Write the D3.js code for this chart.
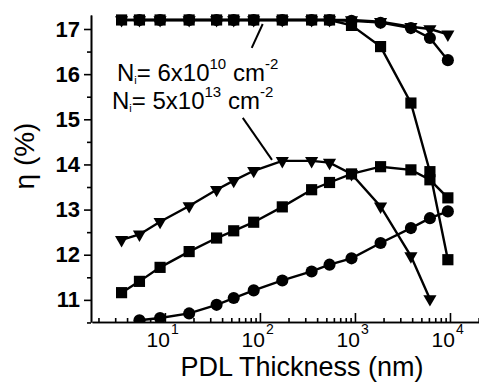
<!DOCTYPE html>
<html>
<head>
<meta charset="utf-8">
<script src="https://cdn.jsdelivr.net/npm/d3@7"></script>
<style>
  body { margin: 0; background: #fff; }
  text { font-family: "Liberation Sans", Arial, sans-serif; fill: #000; }
</style>
</head>
<body>
<svg id="chart" width="479" height="387"></svg>
<script>
// PDL thickness (nm) shared by all series
var thickness = [3.5, 5.4, 8.9, 18, 35, 53, 86, 172, 350, 540, 920, 1860, 3880, 6150, 9500];

// Ni = 6x10^10 cm^-2
var lowTri  = [17.2, 17.2, 17.2, 17.2, 17.2, 17.2, 17.2, 17.2, 17.2, 17.2, 17.2, 17.16, 17.05, 17.0, 16.88];
var lowSq   = [17.2, 17.2, 17.2, 17.2, 17.2, 17.2, 17.2, 17.2, 17.2, 17.2, 17.08, 16.61, 15.36, 13.84, 11.89];
var lowCirc = [null, 17.2, 17.2, 17.2, 17.2, 17.2, 17.2, 17.2, 17.2, 17.2, 17.18, 17.14, 17.02, 16.8, 16.31];

// Ni = 5x10^13 cm^-2
var hiTri  = [12.33, 12.45, 12.73, 13.08, 13.44, 13.64, 13.86, 14.08, 14.08, 14.04, 13.79, 13.07, 11.97, 11.02, null];
var hiSq   = [11.16, 11.41, 11.72, 12.07, 12.37, 12.53, 12.72, 13.06, 13.44, 13.6, 13.79, 13.95, 13.88, 13.66, 13.26];
var hiCirc = [null, 10.55, 10.6, 10.7, 10.89, 11.04, 11.21, 11.43, 11.63, 11.78, 11.92, 12.26, 12.59, 12.81, 12.96];

var yTicks = [11, 12, 13, 14, 15, 16, 17];
var xTicks = [10, 100, 1000, 10000];
var xTickExp = ["1", "2", "3", "4"];

var svg = d3.select("#chart");

var x = d3.scaleLog().domain([1.71, 20200]).range([92, 479]);
var y = d3.scaleLinear().domain([10.51, 17.31]).range([322, 15]);

svg.append("defs").append("clipPath").attr("id", "plot")
    .append("rect").attr("x", 92).attr("y", 0).attr("width", 387).attr("height", 322);

// y axis
var yMinor = d3.range(10.5, 17.01, 0.5).filter(function(d) { return d % 1 !== 0; });
svg.append("g")
    .attr("transform", "translate(91,0)")
    .call(d3.axisLeft(y).tickValues(yMinor).tickSize(4).tickSizeOuter(0).tickFormat(""))
    .call(function(g) { g.selectAll("line, path").attr("stroke-width", 1.6); });

var yAxis = svg.append("g")
    .attr("transform", "translate(91,0)")
    .call(d3.axisLeft(y).tickValues(yTicks).tickSize(7).tickSizeOuter(0).tickPadding(4).tickFormat(d3.format("d")));
yAxis.selectAll("line, path").attr("stroke-width", 1.6);
yAxis.selectAll("text")
    .attr("font-size", 22)
    .attr("font-weight", "bold")
    .attr("font-family", "'Liberation Sans', Arial, sans-serif");

// x axis
var xMinor = [];
[1, 10, 100, 1000, 10000].forEach(function(p) {
    for (var k = 2; k <= 9; k++) {
        if (p * k > 1.71 && p * k < 20200) xMinor.push(p * k);
    }
});
svg.append("g")
    .attr("transform", "translate(0,322)")
    .call(d3.axisBottom(x).tickValues(xMinor).tickSize(-4).tickSizeOuter(0).tickFormat(""))
    .call(function(g) { g.selectAll("line, path").attr("stroke-width", 1.6); });

var xAxis = svg.append("g")
    .attr("transform", "translate(0,322)")
    .call(d3.axisBottom(x).tickValues(xTicks).tickSize(-9).tickSizeOuter(0).tickFormat(""));
xAxis.selectAll("line, path").attr("stroke-width", 1.6);

var xl = svg.append("g");
xl.selectAll("text.base").data(xTicks).enter().append("text")
    .attr("class", "base")
    .attr("x", function(d) { return x(d) + 5; })
    .attr("y", 347)
    .attr("text-anchor", "end")
    .attr("font-size", 21)
    .text("10");
xl.selectAll("text.exp").data(xTicks).enter().append("text")
    .attr("class", "exp")
    .attr("x", function(d) { return x(d) + 6; })
    .attr("y", 334)
    .attr("font-size", 14)
    .text(function(d, i) { return xTickExp[i]; });

// axis titles
svg.append("text")
    .attr("x", 302).attr("y", 376)
    .attr("text-anchor", "middle")
    .attr("font-size", 27)
    .text("PDL Thickness (nm)");

svg.append("text")
    .attr("transform", "translate(34,156) rotate(-90)")
    .attr("text-anchor", "middle")
    .attr("font-size", 28)
    .text("\u03B7 (%)");

// series
var plot = svg.append("g").attr("clip-path", "url(#plot)");

var series = [
    {values: lowCirc, shape: d3.symbolCircle, size: 115, rot: 0},
    {values: lowSq, shape: d3.symbolSquare, size: 125, rot: 0},
    {values: lowTri, shape: d3.symbolTriangle, size: 75, rot: 180},
    {values: hiCirc, shape: d3.symbolCircle, size: 115, rot: 0},
    {values: hiSq, shape: d3.symbolSquare, size: 125, rot: 0},
    {values: hiTri, shape: d3.symbolTriangle, size: 75, rot: 180}
];

var line = d3.line()
    .defined(function(d) { return d[1] != null; })
    .x(function(d) { return x(d[0]); })
    .y(function(d) { return y(d[1]); });

series.forEach(function(s) {
    var pts = thickness.map(function(t, i) { return [t, s.values[i]]; });
    plot.append("path")
        .datum(pts)
        .attr("fill", "none")
        .attr("stroke", "#000")
        .attr("stroke-width", 2.4)
        .attr("d", line);
});

series.forEach(function(s) {
    var pts = thickness.map(function(t, i) { return [t, s.values[i]]; })
        .filter(function(d) { return d[1] != null; });
    plot.append("g").selectAll("path")
        .data(pts)
        .enter().append("path")
        .attr("d", d3.symbol().type(s.shape).size(s.size))
        .attr("fill", "#000")
        .attr("transform", function(d) {
            return "translate(" + x(d[0]) + "," + y(d[1]) + ") rotate(" + s.rot + ")";
        });
});

// annotations
function label(tx, ty, exp) {
    var t = svg.append("text").attr("x", tx).attr("y", ty).attr("font-size", 24);
    t.append("tspan").text("N");
    t.append("tspan").attr("dy", 3).attr("font-size", 11).text("i");
    t.append("tspan").attr("dy", -3).text("= " + exp[0] + "x10");
    t.append("tspan").attr("dy", -12).attr("font-size", 15).text(exp[1]);
    t.append("tspan").attr("dy", 12).text(" cm");
    t.append("tspan").attr("dy", -12).attr("font-size", 15).text("-2");
}
label(117, 81, ["6", "10"]);
label(112, 109, ["5", "13"]);

svg.append("line")
    .attr("x1", x(82)).attr("y1", y(16.58))
    .attr("x2", x(107)).attr("y2", y(17.11))
    .attr("stroke", "#000").attr("stroke-width", 2);
svg.append("line")
    .attr("x1", x(66)).attr("y1", y(15.03))
    .attr("x2", x(134)).attr("y2", y(14.1))
    .attr("stroke", "#000").attr("stroke-width", 2);
</script>
</body>
</html>
